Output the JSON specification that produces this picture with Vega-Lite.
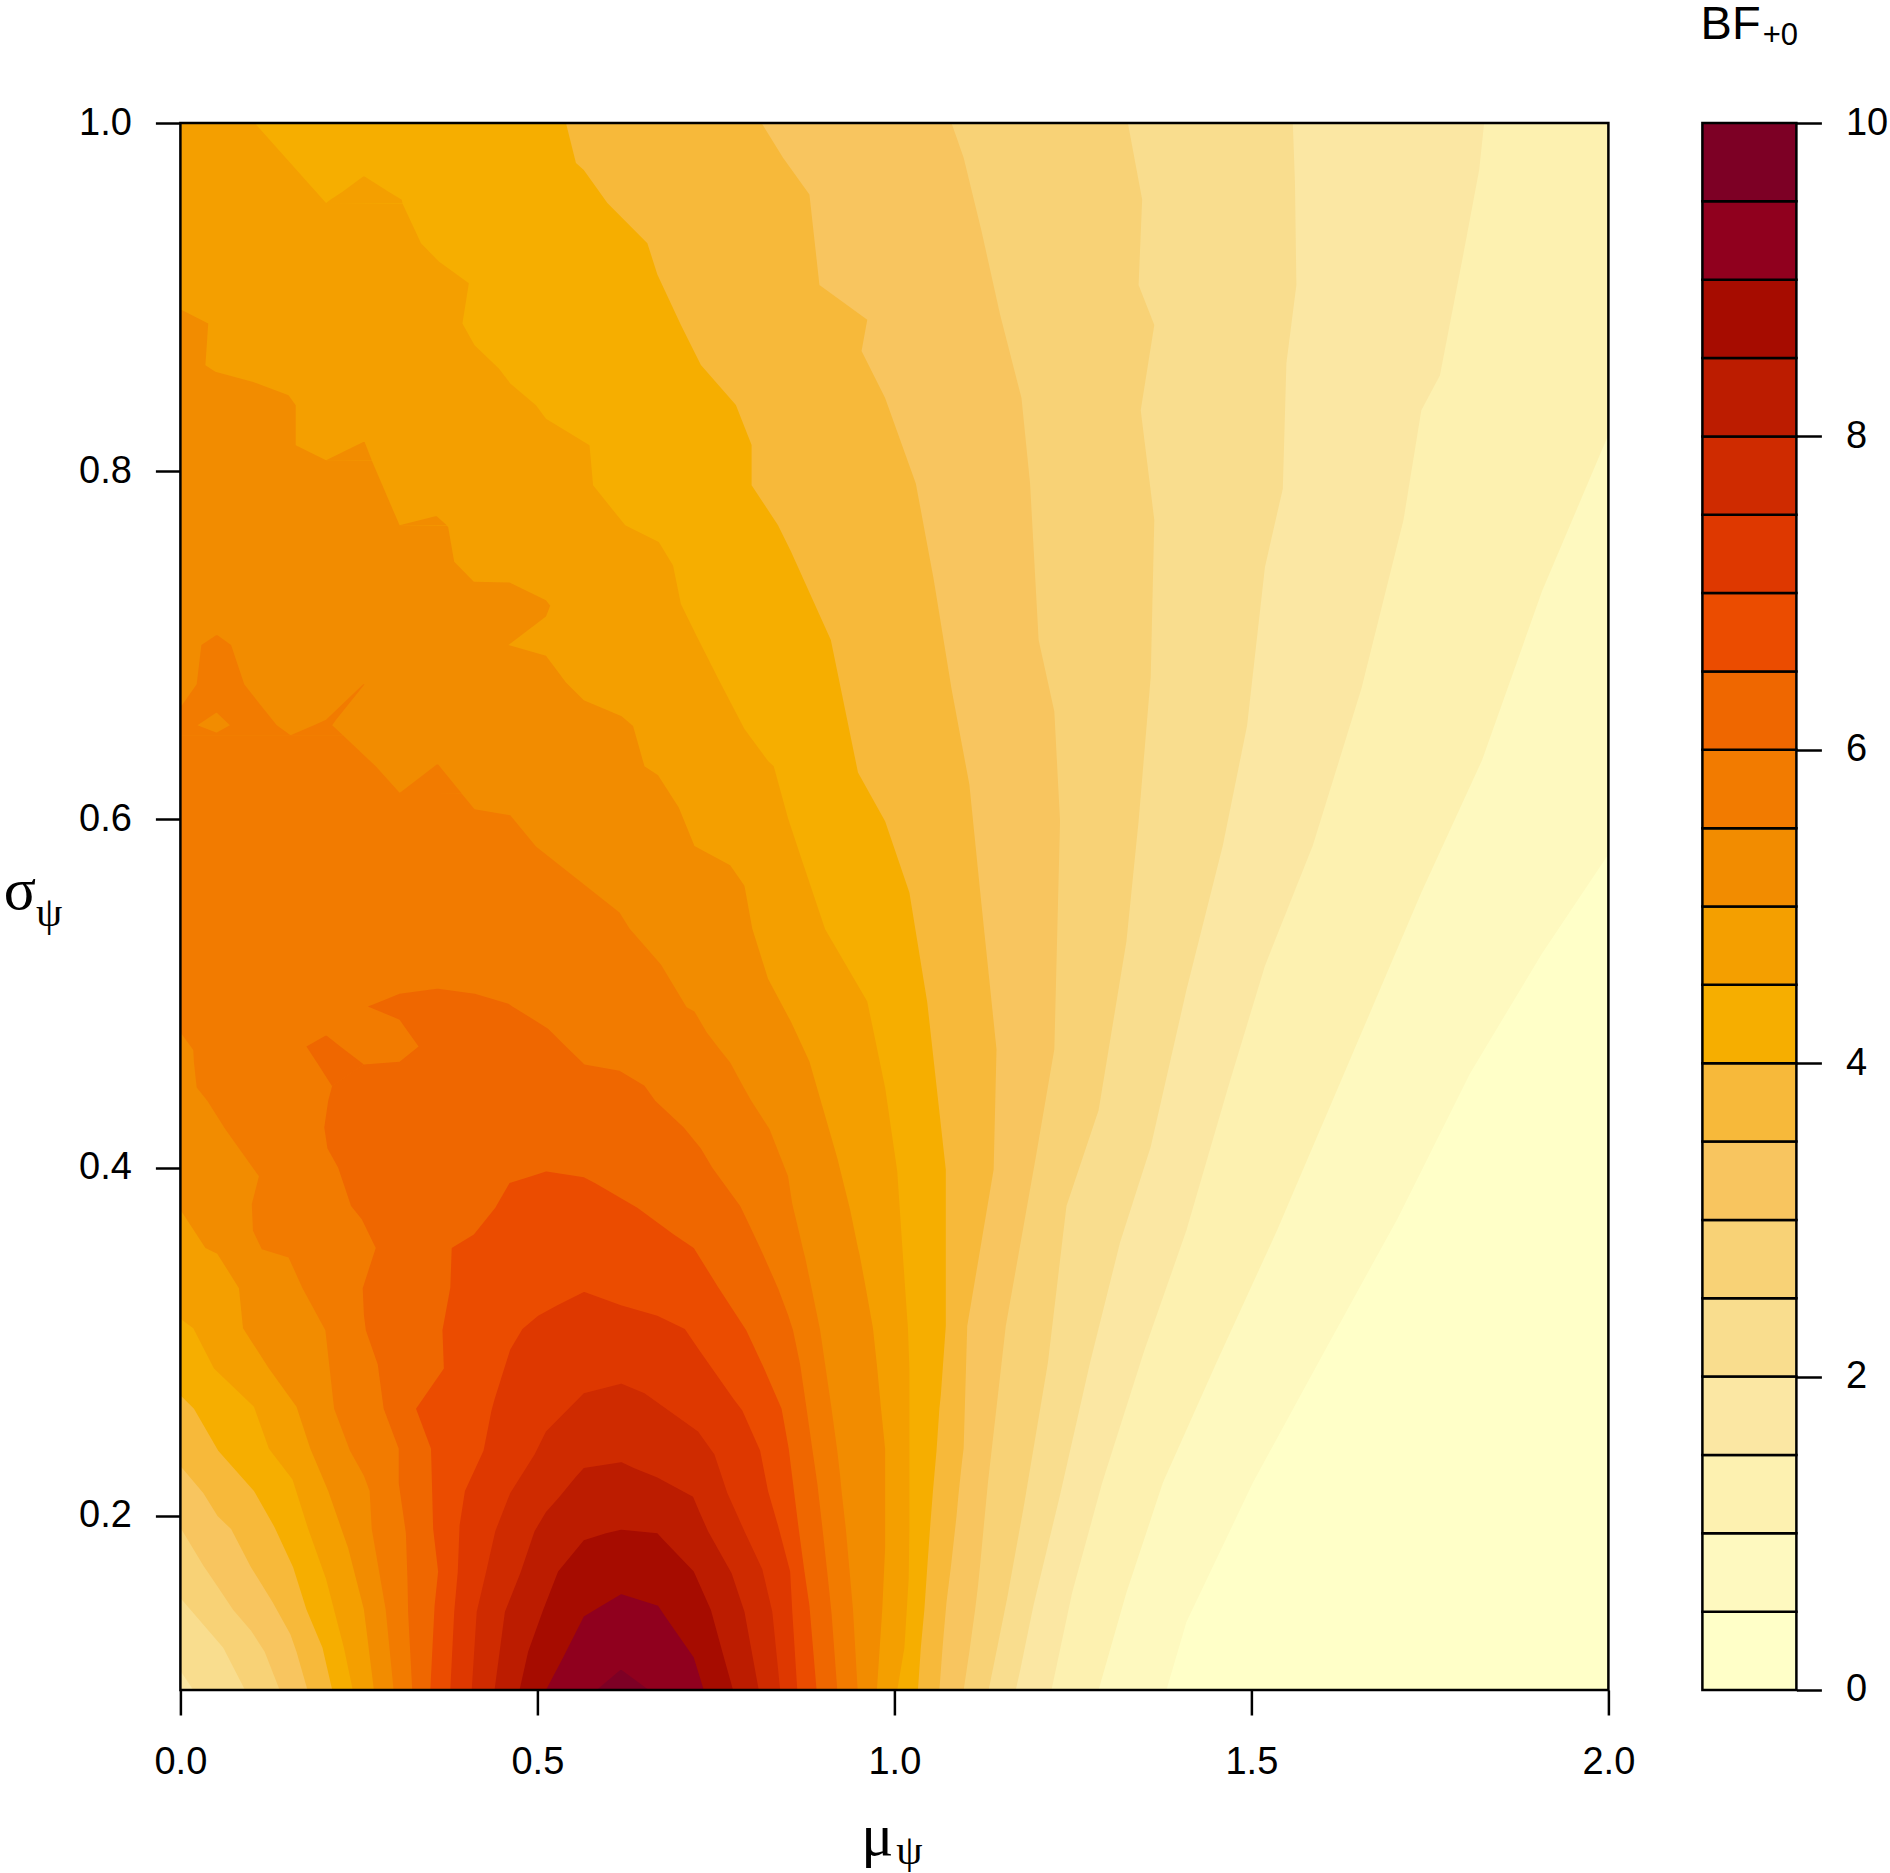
{
  "$schema": "https://vega.github.io/schema/vega-lite/v6.json",
  "background": "white",
  "padding": {"left": 3.4, "top": 0, "right": 0, "bottom": 0},
  "spacing": 65,
  "config": {
    "view": {"stroke": null},
    "axis": {
      "grid": false, "domain": false, "title": null, "labelFlush": false,
      "labelFont": "Liberation Sans", "labelFontSize": 38, "labelColor": "black",
      "tickColor": "black", "tickWidth": 2.5, "tickSize": 25, "labelPadding": 24
    }
  },
  "datasets": {
    "regions": [
      {"band":0,"part":"a","sigma":0.1,"lo":0,"hi":2},{"band":0,"part":"a","sigma":1,"lo":0,"hi":2},

      {"band":1,"part":"a","sigma":0.1,"lo":0,"hi":1.381},{"band":1,"part":"a","sigma":0.139,"lo":0,"hi":1.409},{"band":1,"part":"a","sigma":0.219,"lo":0,"hi":1.502},{"band":1,"part":"a","sigma":0.295,"lo":0,"hi":1.603},{"band":1,"part":"a","sigma":0.371,"lo":0,"hi":1.705},{"band":1,"part":"a","sigma":0.454,"lo":0,"hi":1.806},{"band":1,"part":"a","sigma":0.523,"lo":0,"hi":1.907},{"band":1,"part":"a","sigma":0.58,"lo":0,"hi":2},{"band":1,"part":"a","sigma":1,"lo":0,"hi":2},

      {"band":2,"part":"a","sigma":0.1,"lo":0,"hi":1.286},{"band":2,"part":"a","sigma":0.156,"lo":0,"hi":1.325},{"band":2,"part":"a","sigma":0.219,"lo":0,"hi":1.376},{"band":2,"part":"a","sigma":0.288,"lo":0,"hi":1.451},{"band":2,"part":"a","sigma":0.364,"lo":0,"hi":1.536},{"band":2,"part":"a","sigma":0.461,"lo":0,"hi":1.637},{"band":2,"part":"a","sigma":0.558,"lo":0,"hi":1.738},{"band":2,"part":"a","sigma":0.634,"lo":0,"hi":1.823},{"band":2,"part":"a","sigma":0.731,"lo":0,"hi":1.907},{"band":2,"part":"a","sigma":0.821,"lo":0,"hi":2},{"band":2,"part":"a","sigma":1,"lo":0,"hi":2},

      {"band":3,"part":"a","sigma":0.1,"lo":0,"hi":1.22},{"band":3,"part":"a","sigma":0.156,"lo":0,"hi":1.249},{"band":3,"part":"a","sigma":0.219,"lo":0,"hi":1.291},{"band":3,"part":"a","sigma":0.295,"lo":0,"hi":1.35},{"band":3,"part":"a","sigma":0.364,"lo":0,"hi":1.409},{"band":3,"part":"a","sigma":0.447,"lo":0,"hi":1.468},{"band":3,"part":"a","sigma":0.516,"lo":0,"hi":1.519},{"band":3,"part":"a","sigma":0.585,"lo":0,"hi":1.586},{"band":3,"part":"a","sigma":0.675,"lo":0,"hi":1.654},{"band":3,"part":"a","sigma":0.772,"lo":0,"hi":1.713},{"band":3,"part":"a","sigma":0.835,"lo":0,"hi":1.738},{"band":3,"part":"a","sigma":0.855,"lo":0,"hi":1.764},{"band":3,"part":"a","sigma":0.925,"lo":0,"hi":1.797},{"band":3,"part":"a","sigma":0.973,"lo":0,"hi":1.819},{"band":3,"part":"a","sigma":1,"lo":0,"hi":1.826},

      {"band":4,"part":"a","sigma":0.1,"lo":0.018,"hi":1.17},{"band":4,"part":"a","sigma":0.111,"lo":0,"hi":1.176},{"band":4,"part":"a","sigma":0.149,"lo":0,"hi":1.195},{"band":4,"part":"a","sigma":0.212,"lo":0,"hi":1.232},{"band":4,"part":"a","sigma":0.288,"lo":0,"hi":1.274},{"band":4,"part":"a","sigma":0.357,"lo":0,"hi":1.316},{"band":4,"part":"a","sigma":0.412,"lo":0,"hi":1.359},{"band":4,"part":"a","sigma":0.502,"lo":0,"hi":1.409},{"band":4,"part":"a","sigma":0.585,"lo":0,"hi":1.46},{"band":4,"part":"a","sigma":0.654,"lo":0,"hi":1.494},{"band":4,"part":"a","sigma":0.745,"lo":0,"hi":1.519},{"band":4,"part":"a","sigma":0.79,"lo":0,"hi":1.544},{"band":4,"part":"a","sigma":0.862,"lo":0,"hi":1.549},{"band":4,"part":"a","sigma":0.907,"lo":0,"hi":1.563},{"band":4,"part":"a","sigma":0.966,"lo":0,"hi":1.561},{"band":4,"part":"a","sigma":1,"lo":0,"hi":1.558},

      {"band":5,"part":"a","sigma":0.1,"lo":0.0905,"hi":1.132},{"band":5,"part":"a","sigma":0.1242,"lo":0.06,"hi":1.144},{"band":5,"part":"a","sigma":0.1528,"lo":0,"hi":1.158},{"band":5,"part":"a","sigma":0.205,"lo":0,"hi":1.181},{"band":5,"part":"a","sigma":0.288,"lo":0,"hi":1.215},{"band":5,"part":"a","sigma":0.378,"lo":0,"hi":1.241},{"band":5,"part":"a","sigma":0.433,"lo":0,"hi":1.286},{"band":5,"part":"a","sigma":0.53,"lo":0,"hi":1.325},{"band":5,"part":"a","sigma":0.599,"lo":0,"hi":1.342},{"band":5,"part":"a","sigma":0.682,"lo":0,"hi":1.359},{"band":5,"part":"a","sigma":0.772,"lo":0,"hi":1.364},{"band":5,"part":"a","sigma":0.835,"lo":0,"hi":1.345},{"band":5,"part":"a","sigma":0.884,"lo":0,"hi":1.364},{"band":5,"part":"a","sigma":0.907,"lo":0,"hi":1.342},{"band":5,"part":"a","sigma":0.956,"lo":0,"hi":1.347},{"band":5,"part":"a","sigma":1,"lo":0,"hi":1.327},

      {"band":6,"part":"a","sigma":0.1,"lo":0.139,"hi":1.097},{"band":6,"part":"a","sigma":0.122,"lo":0.118,"hi":1.105},{"band":6,"part":"a","sigma":0.134,"lo":0.099,"hi":1.109},{"band":6,"part":"a","sigma":0.146,"lo":0.074,"hi":1.113},{"band":6,"part":"a","sigma":0.1594,"lo":0.052,"hi":1.117},{"band":6,"part":"a","sigma":0.1715,"lo":0.032,"hi":1.12},{"band":6,"part":"a","sigma":0.1934,"lo":0,"hi":1.125},{"band":6,"part":"a","sigma":0.219,"lo":0,"hi":1.131},{"band":6,"part":"a","sigma":0.309,"lo":0,"hi":1.156},{"band":6,"part":"a","sigma":0.406,"lo":0,"hi":1.198},{"band":6,"part":"a","sigma":0.468,"lo":0,"hi":1.224},{"band":6,"part":"a","sigma":0.599,"lo":0,"hi":1.232},{"band":6,"part":"a","sigma":0.662,"lo":0,"hi":1.224},{"band":6,"part":"a","sigma":0.703,"lo":0,"hi":1.202},{"band":6,"part":"a","sigma":0.793,"lo":0,"hi":1.19},{"band":6,"part":"a","sigma":0.842,"lo":0,"hi":1.178},{"band":6,"part":"a","sigma":0.89,"lo":0,"hi":1.148},{"band":6,"part":"a","sigma":0.938,"lo":0,"hi":1.122},{"band":6,"part":"a","sigma":0.98,"lo":0,"hi":1.097},{"band":6,"part":"a","sigma":1,"lo":0,"hi":1.08},

      {"band":7,"part":"a","sigma":0.1,"lo":0.178,"hi":1.063},{"band":7,"part":"a","sigma":0.122,"lo":0.1626,"hi":1.067},{"band":7,"part":"a","sigma":0.132,"lo":0.154,"hi":1.069},{"band":7,"part":"a","sigma":0.1506,"lo":0.129,"hi":1.073},{"band":7,"part":"a","sigma":0.1704,"lo":0.099,"hi":1.079},{"band":7,"part":"a","sigma":0.1924,"lo":0.071,"hi":1.085},{"band":7,"part":"a","sigma":0.2,"lo":0.052,"hi":1.087},{"band":7,"part":"a","sigma":0.2132,"lo":0.032,"hi":1.09},{"band":7,"part":"a","sigma":0.2286,"lo":0,"hi":1.094},{"band":7,"part":"a","sigma":0.239,"lo":0,"hi":1.097},{"band":7,"part":"a","sigma":0.309,"lo":0,"hi":1.102},{"band":7,"part":"a","sigma":0.399,"lo":0,"hi":1.139},{"band":7,"part":"a","sigma":0.468,"lo":0,"hi":1.143},{"band":7,"part":"a","sigma":0.551,"lo":0,"hi":1.122},{"band":7,"part":"a","sigma":0.62,"lo":0,"hi":1.105},{"band":7,"part":"a","sigma":0.675,"lo":0,"hi":1.08},{"band":7,"part":"a","sigma":0.738,"lo":0,"hi":1.055},{"band":7,"part":"a","sigma":0.793,"lo":0,"hi":1.03},{"band":7,"part":"a","sigma":0.842,"lo":0,"hi":0.987},{"band":7,"part":"a","sigma":0.869,"lo":0,"hi":0.954},{"band":7,"part":"a","sigma":0.887,"lo":0,"hi":0.962},{"band":7,"part":"a","sigma":0.907,"lo":0,"hi":0.895},{"band":7,"part":"a","sigma":0.959,"lo":0,"hi":0.881},{"band":7,"part":"a","sigma":0.98,"lo":0,"hi":0.844},{"band":7,"part":"a","sigma":1,"lo":0,"hi":0.814},

      {"band":8,"part":"a","sigma":0.1,"lo":0.2126,"hi":1.033},{"band":8,"part":"a","sigma":0.1242,"lo":0.199,"hi":1.037},{"band":8,"part":"a","sigma":0.1462,"lo":0.1765,"hi":1.042},{"band":8,"part":"a","sigma":0.1704,"lo":0.158,"hi":1.046},{"band":8,"part":"a","sigma":0.1934,"lo":0.132,"hi":1.05},{"band":8,"part":"a","sigma":0.2143,"lo":0.103,"hi":1.054},{"band":8,"part":"a","sigma":0.2374,"lo":0.053,"hi":1.059},{"band":8,"part":"a","sigma":0.2616,"lo":0.019,"hi":1.063},{"band":8,"part":"a","sigma":0.2693,"lo":0,"hi":1.065},{"band":8,"part":"a","sigma":0.309,"lo":0,"hi":1.072},{"band":8,"part":"a","sigma":0.399,"lo":0,"hi":1.072},{"band":8,"part":"a","sigma":0.495,"lo":0,"hi":1.046},{"band":8,"part":"a","sigma":0.558,"lo":0,"hi":1.021},{"band":8,"part":"a","sigma":0.599,"lo":0,"hi":0.987},{"band":8,"part":"a","sigma":0.627,"lo":0,"hi":0.949},{"band":8,"part":"a","sigma":0.703,"lo":0,"hi":0.911},{"band":8,"part":"a","sigma":0.754,"lo":0,"hi":0.855},{"band":8,"part":"a","sigma":0.769,"lo":0,"hi":0.837},{"band":8,"part":"a","sigma":0.792,"lo":0,"hi":0.8},{"band":8,"part":"a","sigma":0.815,"lo":0,"hi":0.8},{"band":8,"part":"a","sigma":0.838,"lo":0,"hi":0.778},{"band":8,"part":"a","sigma":0.861,"lo":0,"hi":0.729},{"band":8,"part":"a","sigma":0.884,"lo":0,"hi":0.701},{"band":8,"part":"a","sigma":0.913,"lo":0,"hi":0.668},{"band":8,"part":"a","sigma":0.931,"lo":0,"hi":0.654},{"band":8,"part":"a","sigma":0.954,"lo":0,"hi":0.598},{"band":8,"part":"a","sigma":0.973,"lo":0,"hi":0.565},{"band":8,"part":"a","sigma":0.977,"lo":0,"hi":0.554},{"band":8,"part":"a","sigma":1,"lo":0,"hi":0.54},

      {"band":9,"part":"a","sigma":0.1,"lo":0.2414,"hi":1.004},{"band":9,"part":"a","sigma":0.1242,"lo":0.229,"hi":1.014},{"band":9,"part":"a","sigma":0.1638,"lo":0.204,"hi":1.02},{"band":9,"part":"a","sigma":0.1924,"lo":0.179,"hi":1.021},{"band":9,"part":"a","sigma":0.2209,"lo":0.157,"hi":1.021},{"band":9,"part":"a","sigma":0.2385,"lo":0.124,"hi":1.021},{"band":9,"part":"a","sigma":0.2627,"lo":0.103,"hi":1.021},{"band":9,"part":"a","sigma":0.2847,"lo":0.047,"hi":1.021},{"band":9,"part":"a","sigma":0.3077,"lo":0.018,"hi":1.019},{"band":9,"part":"a","sigma":0.3132,"lo":0,"hi":1.018},{"band":9,"part":"a","sigma":0.343,"lo":0,"hi":1.013},{"band":9,"part":"a","sigma":0.398,"lo":0,"hi":1.004},{"band":9,"part":"a","sigma":0.446,"lo":0,"hi":0.987},{"band":9,"part":"a","sigma":0.4955,"lo":0,"hi":0.962},{"band":9,"part":"a","sigma":0.537,"lo":0,"hi":0.903},{"band":9,"part":"a","sigma":0.5785,"lo":0,"hi":0.869},{"band":9,"part":"a","sigma":0.6007,"lo":0,"hi":0.851},{"band":9,"part":"a","sigma":0.6305,"lo":0,"hi":0.831},{"band":9,"part":"a","sigma":0.6336,"lo":0,"hi":0.823},{"band":9,"part":"a","sigma":0.652,"lo":0,"hi":0.79},{"band":9,"part":"a","sigma":0.6787,"lo":0,"hi":0.756},{"band":9,"part":"a","sigma":0.7053,"lo":0,"hi":0.723},{"band":9,"part":"a","sigma":0.7238,"lo":0,"hi":0.701},{"band":9,"part":"a","sigma":0.7459,"lo":0,"hi":0.69},{"band":9,"part":"a","sigma":0.7593,"lo":0,"hi":0.67},{"band":9,"part":"a","sigma":0.7689,"lo":0,"hi":0.623},{"band":9,"part":"a","sigma":0.7919,"lo":0,"hi":0.578},{"band":9,"part":"a","sigma":0.8149,"lo":0,"hi":0.573},{"band":9,"part":"a","sigma":0.8302,"lo":0,"hi":0.512},{"band":9,"part":"a","sigma":0.8379,"lo":0,"hi":0.498},{"band":9,"part":"a","sigma":0.8504,"lo":0,"hi":0.462},{"band":9,"part":"a","sigma":0.859,"lo":0,"hi":0.446},{"band":9,"part":"a","sigma":0.8724,"lo":0,"hi":0.412},{"band":9,"part":"a","sigma":0.8849,"lo":0,"hi":0.395},{"band":9,"part":"a","sigma":0.9079,"lo":0,"hi":0.404},{"band":9,"part":"a","sigma":0.9204,"lo":0,"hi":0.362},{"band":9,"part":"a","sigma":0.9309,"lo":0,"hi":0.337},{"band":9,"part":"a","sigma":0.9538,"lo":0,"hi":0.311},{"band":9,"part":"a","sigma":0.954,"lo":0,"hi":0.204},{"band":9,"part":"a","sigma":1,"lo":0,"hi":0.104},
      {"band":9,"part":"b","sigma":0.954,"lo":0.204,"hi":0.311},{"band":9,"part":"b","sigma":0.9559,"lo":0.21,"hi":0.31},{"band":9,"part":"b","sigma":0.9607,"lo":0.2276,"hi":0.291},{"band":9,"part":"b","sigma":0.9693,"lo":0.256,"hi":0.258},

      {"band":10,"part":"a","sigma":0.1,"lo":0.271,"hi":0.9755},{"band":10,"part":"a","sigma":0.1462,"lo":0.257,"hi":0.983},{"band":10,"part":"a","sigma":0.1814,"lo":0.235,"hi":0.987},{"band":10,"part":"a","sigma":0.2143,"lo":0.207,"hi":0.987},{"band":10,"part":"a","sigma":0.2385,"lo":0.182,"hi":0.987},{"band":10,"part":"a","sigma":0.2627,"lo":0.1626,"hi":0.981},{"band":10,"part":"a","sigma":0.2847,"lo":0.124,"hi":0.976},{"band":10,"part":"a","sigma":0.3077,"lo":0.0877,"hi":0.97},{"band":10,"part":"a","sigma":0.3308,"lo":0.082,"hi":0.96},{"band":10,"part":"a","sigma":0.3506,"lo":0.0516,"hi":0.951},{"band":10,"part":"a","sigma":0.3539,"lo":0.035,"hi":0.949},{"band":10,"part":"a","sigma":0.3759,"lo":0,"hi":0.938},{"band":10,"part":"a","sigma":0.4055,"lo":0,"hi":0.92},{"band":10,"part":"a","sigma":0.461,"lo":0,"hi":0.881},{"band":10,"part":"a","sigma":0.4839,"lo":0,"hi":0.855},{"band":10,"part":"a","sigma":0.5085,"lo":0,"hi":0.823},{"band":10,"part":"a","sigma":0.5372,"lo":0,"hi":0.801},{"band":10,"part":"a","sigma":0.5619,"lo":0,"hi":0.79},{"band":10,"part":"a","sigma":0.5737,"lo":0,"hi":0.77},{"band":10,"part":"a","sigma":0.5848,"lo":0,"hi":0.72},{"band":10,"part":"a","sigma":0.6069,"lo":0,"hi":0.698},{"band":10,"part":"a","sigma":0.6254,"lo":0,"hi":0.669},{"band":10,"part":"a","sigma":0.6305,"lo":0,"hi":0.65},{"band":10,"part":"a","sigma":0.6537,"lo":0,"hi":0.634},{"band":10,"part":"a","sigma":0.6592,"lo":0,"hi":0.618},{"band":10,"part":"a","sigma":0.6684,"lo":0,"hi":0.565},{"band":10,"part":"a","sigma":0.6787,"lo":0,"hi":0.54},{"band":10,"part":"a","sigma":0.694,"lo":0,"hi":0.512},{"band":10,"part":"a","sigma":0.7002,"lo":0,"hi":0.4595},{"band":10,"part":"a","sigma":0.7166,"lo":0,"hi":0.512},{"band":10,"part":"a","sigma":0.7228,"lo":0,"hi":0.518},{"band":10,"part":"a","sigma":0.7259,"lo":0,"hi":0.512},{"band":10,"part":"a","sigma":0.7361,"lo":0,"hi":0.461},{"band":10,"part":"a","sigma":0.7365,"lo":0,"hi":0.411},{"band":10,"part":"a","sigma":0.748,"lo":0,"hi":0.3835},{"band":10,"part":"a","sigma":0.7679,"lo":0,"hi":0.375},{"band":10,"part":"a","sigma":0.7687,"lo":0,"hi":0.373},{"band":10,"part":"a","sigma":0.7689,"lo":0,"hi":0.307},{"band":10,"part":"a","sigma":0.8061,"lo":0,"hi":0.268},{"band":10,"part":"a","sigma":0.8063,"lo":0,"hi":0.204},{"band":10,"part":"a","sigma":0.8149,"lo":0,"hi":0.1615},{"band":10,"part":"a","sigma":0.8379,"lo":0,"hi":0.1615},{"band":10,"part":"a","sigma":0.8437,"lo":0,"hi":0.1515},{"band":10,"part":"a","sigma":0.8513,"lo":0,"hi":0.102},{"band":10,"part":"a","sigma":0.8571,"lo":0,"hi":0.049},{"band":10,"part":"a","sigma":0.8609,"lo":0,"hi":0.035},{"band":10,"part":"a","sigma":0.8849,"lo":0,"hi":0.039},{"band":10,"part":"a","sigma":0.8926,"lo":0,"hi":0.002},
      {"band":10,"part":"b","sigma":0.8063,"lo":0.204,"hi":0.268},{"band":10,"part":"b","sigma":0.8168,"lo":0.256,"hi":0.258},
      {"band":10,"part":"c","sigma":0.7689,"lo":0.307,"hi":0.373},{"band":10,"part":"c","sigma":0.7742,"lo":0.357,"hi":0.359},

      {"band":11,"part":"a","sigma":0.1,"lo":0.2986,"hi":0.9485},{"band":11,"part":"a","sigma":0.1462,"lo":0.2875,"hi":0.942},{"band":11,"part":"a","sigma":0.1924,"lo":0.268,"hi":0.932},{"band":11,"part":"a","sigma":0.2143,"lo":0.265,"hi":0.926},{"band":11,"part":"a","sigma":0.2231,"lo":0.257,"hi":0.924},{"band":11,"part":"a","sigma":0.2374,"lo":0.2375,"hi":0.92},{"band":11,"part":"a","sigma":0.2616,"lo":0.2153,"hi":0.912},{"band":11,"part":"a","sigma":0.3066,"lo":0.203,"hi":0.896},{"band":11,"part":"a","sigma":0.3308,"lo":0.171,"hi":0.884},{"band":11,"part":"a","sigma":0.3484,"lo":0.1515,"hi":0.875},{"band":11,"part":"a","sigma":0.3532,"lo":0.114,"hi":0.872},{"band":11,"part":"a","sigma":0.3638,"lo":0.1016,"hi":0.866},{"band":11,"part":"a","sigma":0.3792,"lo":0.1,"hi":0.857},{"band":11,"part":"a","sigma":0.395,"lo":0.11,"hi":0.851},{"band":11,"part":"a","sigma":0.4222,"lo":0.0627,"hi":0.825},{"band":11,"part":"a","sigma":0.4385,"lo":0.0377,"hi":0.7995},{"band":11,"part":"a","sigma":0.446,"lo":0.0228,"hi":0.789},{"band":11,"part":"a","sigma":0.4604,"lo":0.019,"hi":0.77},{"band":11,"part":"a","sigma":0.4676,"lo":0.018,"hi":0.756},{"band":11,"part":"a","sigma":0.4778,"lo":0,"hi":0.737},{"band":11,"part":"a","sigma":0.4897,"lo":0,"hi":0.72},{"band":11,"part":"a","sigma":0.4921,"lo":0,"hi":0.709},{"band":11,"part":"a","sigma":0.5167,"lo":0,"hi":0.673},{"band":11,"part":"a","sigma":0.5373,"lo":0,"hi":0.629},{"band":11,"part":"a","sigma":0.5465,"lo":0,"hi":0.615},{"band":11,"part":"a","sigma":0.5844,"lo":0,"hi":0.498},{"band":11,"part":"a","sigma":0.6024,"lo":0,"hi":0.462},{"band":11,"part":"a","sigma":0.6059,"lo":0,"hi":0.412},{"band":11,"part":"a","sigma":0.6151,"lo":0,"hi":0.3935},{"band":11,"part":"a","sigma":0.6153,"lo":0,"hi":0.307},{"band":11,"part":"a","sigma":0.6305,"lo":0,"hi":0.2736},{"band":11,"part":"a","sigma":0.6484,"lo":0,"hi":0.2276},
      {"band":11,"part":"b","sigma":0.6484,"lo":0,"hi":0.1543},{"band":11,"part":"b","sigma":0.6541,"lo":0,"hi":0.135},{"band":11,"part":"b","sigma":0.6643,"lo":0,"hi":0.115},{"band":11,"part":"b","sigma":0.6777,"lo":0.0228,"hi":0.0894},{"band":11,"part":"b","sigma":0.7002,"lo":0.0294,"hi":0.071},{"band":11,"part":"b","sigma":0.7058,"lo":0.05,"hi":0.052},
      {"band":11,"part":"c","sigma":0.6484,"lo":0.1543,"hi":0.2276},{"band":11,"part":"c","sigma":0.6541,"lo":0.187,"hi":0.2126},{"band":11,"part":"c","sigma":0.6572,"lo":0.204,"hi":0.218},{"band":11,"part":"c","sigma":0.6777,"lo":0.256,"hi":0.258},
      {"band":11,"part":"d","sigma":0.6152,"lo":0.307,"hi":0.3935},{"band":11,"part":"d","sigma":0.6315,"lo":0.359,"hi":0.361},
      {"band":10,"part":"hole","sigma":0.65,"lo":0.05,"hi":0.051},{"band":10,"part":"hole","sigma":0.6541,"lo":0.0239,"hi":0.0694},{"band":10,"part":"hole","sigma":0.6613,"lo":0.05,"hi":0.051},

      {"band":12,"part":"a","sigma":0.1,"lo":0.3247,"hi":0.92},{"band":12,"part":"a","sigma":0.144,"lo":0.319,"hi":0.912},{"band":12,"part":"a","sigma":0.1638,"lo":0.318,"hi":0.907},{"band":12,"part":"a","sigma":0.1902,"lo":0.3158,"hi":0.9},{"band":12,"part":"a","sigma":0.2187,"lo":0.3058,"hi":0.892},{"band":12,"part":"a","sigma":0.2385,"lo":0.3058,"hi":0.885},{"band":12,"part":"a","sigma":0.2616,"lo":0.2847,"hi":0.877},{"band":12,"part":"a","sigma":0.2869,"lo":0.2764,"hi":0.868},{"band":12,"part":"a","sigma":0.3066,"lo":0.2597,"hi":0.858},{"band":12,"part":"a","sigma":0.3155,"lo":0.257,"hi":0.851},{"band":12,"part":"a","sigma":0.3308,"lo":0.2553,"hi":0.837},{"band":12,"part":"a","sigma":0.3539,"lo":0.2736,"hi":0.812},{"band":12,"part":"a","sigma":0.3704,"lo":0.254,"hi":0.793},{"band":12,"part":"a","sigma":0.378,"lo":0.239,"hi":0.784},{"band":12,"part":"a","sigma":0.4,"lo":0.221,"hi":0.745},{"band":12,"part":"a","sigma":0.411,"lo":0.206,"hi":0.729},{"band":12,"part":"a","sigma":0.4231,"lo":0.2015,"hi":0.705},{"band":12,"part":"a","sigma":0.4385,"lo":0.207,"hi":0.665},{"band":12,"part":"a","sigma":0.447,"lo":0.2126,"hi":0.65},{"band":12,"part":"a","sigma":0.4557,"lo":0.2436,"hi":0.615},{"band":12,"part":"a","sigma":0.4593,"lo":0.257,"hi":0.566},{"band":12,"part":"a","sigma":0.4608,"lo":0.307,"hi":0.562},{"band":12,"part":"a","sigma":0.4696,"lo":0.3336,"hi":0.54},{"band":12,"part":"a","sigma":0.4798,"lo":0.3158,"hi":0.515},{"band":12,"part":"a","sigma":0.485,"lo":0.307,"hi":0.495},{"band":12,"part":"a","sigma":0.4926,"lo":0.2625,"hi":0.465},{"band":12,"part":"a","sigma":0.4942,"lo":0.2725,"hi":0.4595},{"band":12,"part":"a","sigma":0.4999,"lo":0.307,"hi":0.4124},{"band":12,"part":"a","sigma":0.5028,"lo":0.359,"hi":0.361},
      {"band":12,"part":"b","sigma":0.447,"lo":0.212,"hi":0.213},{"band":12,"part":"b","sigma":0.4593,"lo":0.193,"hi":0.257},{"band":12,"part":"b","sigma":0.4696,"lo":0.1765,"hi":0.224},{"band":12,"part":"b","sigma":0.4757,"lo":0.203,"hi":0.205},

      {"band":13,"part":"a","sigma":0.1,"lo":0.35,"hi":0.891},{"band":13,"part":"a","sigma":0.1484,"lo":0.356,"hi":0.881},{"band":13,"part":"a","sigma":0.168,"lo":0.361,"hi":0.874},{"band":13,"part":"a","sigma":0.1924,"lo":0.354,"hi":0.866},{"band":13,"part":"a","sigma":0.2385,"lo":0.351,"hi":0.852},{"band":13,"part":"a","sigma":0.2616,"lo":0.33,"hi":0.842},{"band":13,"part":"a","sigma":0.2847,"lo":0.369,"hi":0.8175},{"band":13,"part":"a","sigma":0.3066,"lo":0.367,"hi":0.7925},{"band":13,"part":"a","sigma":0.331,"lo":0.378,"hi":0.7537},{"band":13,"part":"a","sigma":0.3539,"lo":0.38,"hi":0.719},{"band":13,"part":"a","sigma":0.3616,"lo":0.411,"hi":0.691},{"band":13,"part":"a","sigma":0.377,"lo":0.441,"hi":0.64},{"band":13,"part":"a","sigma":0.3912,"lo":0.461,"hi":0.5805},{"band":13,"part":"a","sigma":0.3945,"lo":0.487,"hi":0.565},{"band":13,"part":"a","sigma":0.3978,"lo":0.512,"hi":0.513},

      {"band":14,"part":"a","sigma":0.1,"lo":0.378,"hi":0.864},{"band":14,"part":"a","sigma":0.145,"lo":0.3835,"hi":0.857},{"band":14,"part":"a","sigma":0.168,"lo":0.3885,"hi":0.854},{"band":14,"part":"a","sigma":0.1945,"lo":0.391,"hi":0.837},{"band":14,"part":"a","sigma":0.2143,"lo":0.3985,"hi":0.823},{"band":14,"part":"a","sigma":0.2374,"lo":0.4245,"hi":0.812},{"band":14,"part":"a","sigma":0.2605,"lo":0.4357,"hi":0.787},{"band":14,"part":"a","sigma":0.267,"lo":0.44,"hi":0.775},{"band":14,"part":"a","sigma":0.2956,"lo":0.462,"hi":0.726},{"band":14,"part":"a","sigma":0.3073,"lo":0.479,"hi":0.7065},{"band":14,"part":"a","sigma":0.315,"lo":0.501,"hi":0.668},{"band":14,"part":"a","sigma":0.321,"lo":0.528,"hi":0.617},{"band":14,"part":"a","sigma":0.3286,"lo":0.565,"hi":0.566},

      {"band":15,"part":"a","sigma":0.1,"lo":0.408,"hi":0.84},{"band":15,"part":"a","sigma":0.145,"lo":0.415,"hi":0.829},{"band":15,"part":"a","sigma":0.1693,"lo":0.429,"hi":0.815},{"band":15,"part":"a","sigma":0.1912,"lo":0.441,"hi":0.79},{"band":15,"part":"a","sigma":0.2132,"lo":0.462,"hi":0.766},{"band":15,"part":"a","sigma":0.2352,"lo":0.496,"hi":0.748},{"band":15,"part":"a","sigma":0.2484,"lo":0.512,"hi":0.725},{"band":15,"part":"a","sigma":0.2704,"lo":0.565,"hi":0.65},{"band":15,"part":"a","sigma":0.2759,"lo":0.617,"hi":0.618},

      {"band":16,"part":"a","sigma":0.1,"lo":0.44,"hi":0.81},{"band":16,"part":"a","sigma":0.145,"lo":0.4545,"hi":0.79},{"band":16,"part":"a","sigma":0.167,"lo":0.476,"hi":0.772},{"band":16,"part":"a","sigma":0.1912,"lo":0.496,"hi":0.739},{"band":16,"part":"a","sigma":0.2022,"lo":0.512,"hi":0.727},{"band":16,"part":"a","sigma":0.211,"lo":0.531,"hi":0.718},{"band":16,"part":"a","sigma":0.222,"lo":0.553,"hi":0.668},{"band":16,"part":"a","sigma":0.2275,"lo":0.565,"hi":0.635},{"band":16,"part":"a","sigma":0.2308,"lo":0.617,"hi":0.618},

      {"band":17,"part":"a","sigma":0.1,"lo":0.475,"hi":0.774},{"band":17,"part":"a","sigma":0.122,"lo":0.487,"hi":0.759},{"band":17,"part":"a","sigma":0.146,"lo":0.508,"hi":0.743},{"band":17,"part":"a","sigma":0.168,"lo":0.529,"hi":0.719},{"band":17,"part":"a","sigma":0.186,"lo":0.565,"hi":0.677},{"band":17,"part":"a","sigma":0.19,"lo":0.596,"hi":0.668},{"band":17,"part":"a","sigma":0.192,"lo":0.617,"hi":0.618},

      {"band":18,"part":"a","sigma":0.1,"lo":0.512,"hi":0.733},{"band":18,"part":"a","sigma":0.1187,"lo":0.536,"hi":0.719},{"band":18,"part":"a","sigma":0.1422,"lo":0.565,"hi":0.679},{"band":18,"part":"a","sigma":0.1484,"lo":0.59,"hi":0.669},{"band":18,"part":"a","sigma":0.155,"lo":0.617,"hi":0.618},

      {"band":19,"part":"a","sigma":0.1,"lo":0.583,"hi":0.656},{"band":19,"part":"a","sigma":0.1115,"lo":0.616,"hi":0.618}
    ],
    "bar": [
      {"band":0,"from":0,"to":0.5},{"band":1,"from":0.5,"to":1},{"band":2,"from":1,"to":1.5},{"band":3,"from":1.5,"to":2},
      {"band":4,"from":2,"to":2.5},{"band":5,"from":2.5,"to":3},{"band":6,"from":3,"to":3.5},{"band":7,"from":3.5,"to":4},
      {"band":8,"from":4,"to":4.5},{"band":9,"from":4.5,"to":5},{"band":10,"from":5,"to":5.5},{"band":11,"from":5.5,"to":6},
      {"band":12,"from":6,"to":6.5},{"band":13,"from":6.5,"to":7},{"band":14,"from":7,"to":7.5},{"band":15,"from":7.5,"to":8},
      {"band":16,"from":8,"to":8.5},{"band":17,"from":8.5,"to":9},{"band":18,"from":9,"to":9.5},{"band":19,"from":9.5,"to":10}
    ]
  },
  "hconcat": [
    {
      "width": 1428,
      "height": 1567,
      "layer": [
        {
          "data": {"name": "regions"},
          "mark": {"type": "area", "orient": "horizontal", "interpolate": "linear"},
          "encoding": {
            "y": {"field": "sigma", "type": "quantitative", "scale": {"domain": [0.1, 1], "nice": false, "zero": false},
              "axis": {"values": [0.2, 0.4, 0.6, 0.8, 1.0], "format": ".1f"}},
            "x": {"field": "lo", "type": "quantitative", "scale": {"domain": [0, 2], "nice": false},
              "axis": {"values": [0, 0.5, 1, 1.5, 2], "format": ".1f", "labelPadding": 29}},
            "x2": {"field": "hi"},
            "color": {"field": "band", "type": "nominal", "legend": null,
              "scale": {"domain": [0,1,2,3,4,5,6,7,8,9,10,11,12,13,14,15,16,17,18,19],
                "range": ["#FFFFC8","#FEF9BF","#FDF1B0","#FBE7A3","#F9DD8E","#F8D276","#F8C55F","#F7B93A","#F6AE00","#F49F00","#F28C00","#F27B00","#EF6700","#EB4C00","#DE3800","#CF2B00","#BC1C00","#A60C00","#90001E","#7D0025"]}},
            "detail": {"field": "part"}
          }
        },
        {
          "data": {"values": [{"left": 0, "right": 2, "bottom": 0.1, "top": 1}]},
          "mark": {"type": "rect", "fill": null, "stroke": "black", "strokeWidth": 2.5},
          "encoding": {
            "x": {"field": "left", "type": "quantitative"},
            "x2": {"field": "right"},
            "y": {"field": "bottom", "type": "quantitative"},
            "y2": {"field": "top"}
          }
        },
        {
          "data": {"values": [{"mu": -0.2246, "sigma": 0.5588, "text": "σ"}, {"mu": 0.976, "sigma": 0.0153, "text": "μ"}]},
          "mark": {"type": "text", "font": "Liberation Serif", "fontSize": 60, "color": "black", "clip": false},
          "encoding": {
            "x": {"field": "mu", "type": "quantitative"},
            "y": {"field": "sigma", "type": "quantitative"},
            "text": {"field": "text"}
          }
        },
        {
          "data": {"values": [{"mu": -0.184, "sigma": 0.546, "text": "ψ"}, {"mu": 1.021, "sigma": 0.0076, "text": "ψ"}]},
          "mark": {"type": "text", "font": "Liberation Serif", "fontSize": 42, "color": "black", "clip": false},
          "encoding": {
            "x": {"field": "mu", "type": "quantitative"},
            "y": {"field": "sigma", "type": "quantitative"},
            "text": {"field": "text"}
          }
        }
      ]
    },
    {
      "width": 94,
      "height": 1567,
      "layer": [
        {
          "data": {"name": "bar"},
          "mark": {"type": "rect", "stroke": "black", "strokeWidth": 2.5},
          "encoding": {
            "x": {"datum": 0, "type": "quantitative", "scale": {"domain": [0, 1], "nice": false}, "axis": null},
            "x2": {"datum": 1},
            "y": {"field": "from", "type": "quantitative", "scale": {"domain": [0, 10], "nice": false},
              "axis": {"orient": "right", "values": [0, 2, 4, 6, 8, 10], "format": "d"}},
            "y2": {"field": "to"},
            "color": {"field": "band", "type": "nominal", "legend": null,
              "scale": {"domain": [0,1,2,3,4,5,6,7,8,9,10,11,12,13,14,15,16,17,18,19],
                "range": ["#FFFFC8","#FEF9BF","#FDF1B0","#FBE7A3","#F9DD8E","#F8D276","#F8C55F","#F7B93A","#F6AE00","#F49F00","#F28C00","#F27B00","#EF6700","#EB4C00","#DE3800","#CF2B00","#BC1C00","#A60C00","#90001E","#7D0025"]}}
          }
        },
        {
          "data": {"values": [{"pos": 0.3, "value": 10.627, "text": "BF"}]},
          "mark": {"type": "text", "font": "Liberation Sans", "fontSize": 47, "color": "black", "clip": false},
          "encoding": {
            "x": {"field": "pos", "type": "quantitative"},
            "y": {"field": "value", "type": "quantitative"},
            "text": {"field": "text"}
          }
        },
        {
          "data": {"values": [{"pos": 0.83, "value": 10.555, "text": "+0"}]},
          "mark": {"type": "text", "font": "Liberation Sans", "fontSize": 31, "color": "black", "clip": false},
          "encoding": {
            "x": {"field": "pos", "type": "quantitative"},
            "y": {"field": "value", "type": "quantitative"},
            "text": {"field": "text"}
          }
        }
      ]
    }
  ]
}
